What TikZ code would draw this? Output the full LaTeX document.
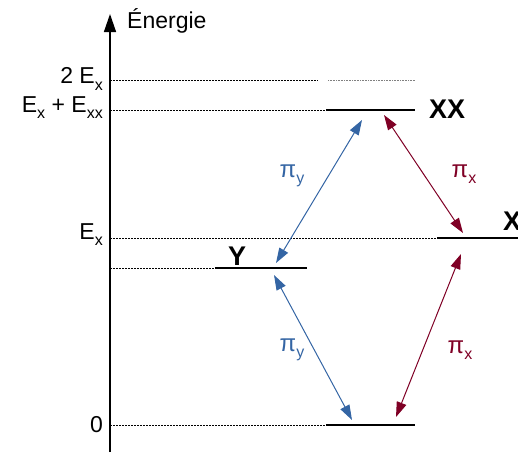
\documentclass[tikz,border=0pt]{standalone}
\usepackage{fontspec}
\setmainfont{Liberation Sans}
\usetikzlibrary{arrows.meta}
\definecolor{piblue}{HTML}{3465A4}
\definecolor{pired}{HTML}{7F0025}
\newcommand\subx[1]{\raisebox{-0.5ex}{\fontsize{16}{16}\selectfont #1}}
\tikzset{
  lvl/.style={line width=1.3pt},
  guide/.style={line width=0.8pt, dash pattern=on 2pt off 1pt},
  fineguide/.style={line width=0.7pt, gray, dash pattern=on 1pt off 0.6pt},
  lab/.style={font=\fontsize{23}{23}\selectfont, anchor=east, inner sep=0pt},
  statelab/.style={font=\bfseries\fontsize{27}{27}\selectfont, inner sep=0pt},
  trans/.style={line width=1pt, {Triangle[length=15pt,width=10pt]}-{Triangle[length=15pt,width=10pt]}},
  pilab/.style={font=\fontsize{24}{24}\selectfont, inner sep=0pt},
}
\begin{document}
\begin{tikzpicture}[x=1pt,y=-1pt]
\useasboundingbox (0,0) rectangle (518,453);
% axis
\coordinate (axb) at (110,452);
\coordinate (axt) at (110,14);
\draw[line width=1.4pt, -{Triangle[length=18pt,width=12pt]}] (axb) -- (axt);
\node[font=\fontsize{23}{23}\selectfont, anchor=west, inner sep=0pt] (en) at (127,21) {Énergie};
% guide lines
\draw[guide] (110,80) -- (318,80);
\draw[fineguide] (328,80) -- (415,80);
\draw[guide] (110,110) -- (326,110);
\draw[guide] (110,238) -- (437,238);
\draw[guide] (110,268) -- (215,268);
\draw[guide] (110,425) -- (326,425);
% levels
\draw[lvl] (326,110) coordinate (xxl) -- (415,110) coordinate (xxr);
\draw[lvl] (437,238) coordinate (xl) -- (520,238) coordinate (xr);
\draw[lvl] (215,268) coordinate (yl) -- (307,268) coordinate (yr);
\draw[lvl] (326,425) coordinate (gl) -- (415,425) coordinate (gr);
% axis labels
\node[lab] (l2ex) at (103,79) {2 E\subx{x}};
\node[lab] (lexx) at (103,108) {E\subx{x} + E\subx{xx}};
\node[lab] (lex) at (103,235) {E\subx{x}};
\node[lab] (l0) at (103,425) {0};
% state labels
\node[statelab, anchor=west] (sxx) at (429,109) {XX};
\node[statelab, anchor=west] (sx) at (503,221) {X};
\node[statelab] (sy) at (237,256) {Y};
% transitions
\coordinate (a1) at (362,120); \coordinate (a2) at (276,263);
\coordinate (b1) at (274,275); \coordinate (b2) at (352,420);
\coordinate (c1) at (384,115); \coordinate (c2) at (463,233);
\coordinate (d1) at (461,254); \coordinate (d2) at (396,417);
\draw[trans, piblue] (a1) -- (a2);
\draw[trans, piblue] (b1) -- (b2);
\draw[trans, pired] (c1) -- (c2);
\draw[trans, pired] (d1) -- (d2);
\node[pilab, text=piblue] (p1) at (292,176) {π\subx{y}};
\node[pilab, text=piblue] (p2) at (292,350) {π\subx{y}};
\node[pilab, text=pired] (p3) at (464,174) {π\subx{x}};
\node[pilab, text=pired] (p4) at (460,350) {π\subx{x}};
\end{tikzpicture}
\end{document}
